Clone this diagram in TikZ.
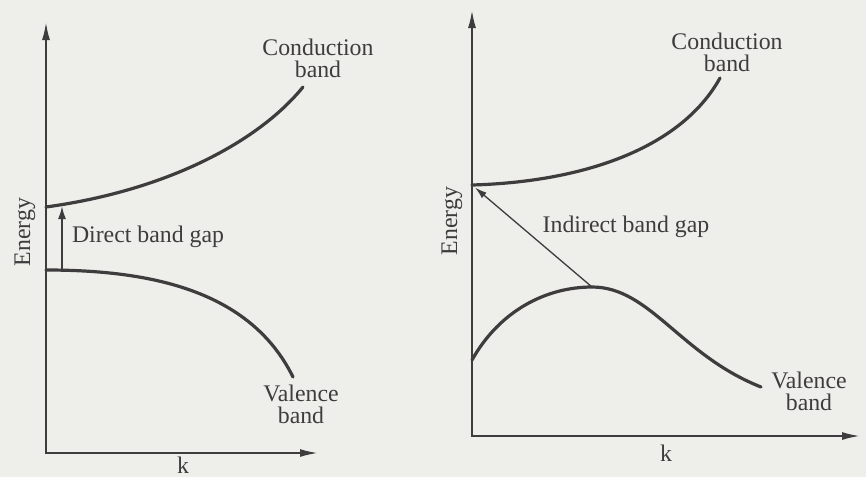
\documentclass[tikz,border=0pt]{standalone}
\usepackage{fontspec}
\setmainfont{Liberation Serif}
\usetikzlibrary{arrows.meta}

\begin{document}
\begin{tikzpicture}[x=0.5pt, y=-0.5pt, font=\fontsize{11.9}{11}\selectfont]

\definecolor{ink}{RGB}{62,60,60}
\definecolor{paper}{RGB}{238,238,235}

\tikzset{
  axis/.style={{Latex[length=9pt, width=4pt]}-{Latex[length=9pt, width=4pt]}, line width=1pt, draw=ink},
  band/.style={line width=1.6pt, draw=ink, line cap=round},
  gap/.style={-{Latex[length=6.5pt, width=4pt]}, line width=1pt, draw=ink},
  thingap/.style={-{Latex[length=6pt, width=3.6pt]}, line width=0.65pt, draw=ink},
  lab/.style={text=ink, align=center, inner sep=0pt},
}

\newcommand{\bandaxes}[5]{%
  \coordinate (#1-o) at (#2, #3);
  \coordinate (#1-x) at (#4, #3);
  \coordinate (#1-y) at (#2, #5);
  \draw[axis] (#1-y) -- (#1-o) -- (#1-x);
}

\fill[paper] (0, 0) rectangle (866, 477);
\useasboundingbox (0, 0) rectangle (866, 477);

% direct gap
\bandaxes{dir}{46}{453}{318}{22}
\node[lab] (dir-k) at (183, 465) {k};
\node[lab, rotate=90] (dir-e) at (25, 232) {Energy};

\coordinate (dir-cb0) at (46, 207);
\coordinate (dir-cb1) at (303, 87);
\coordinate (dir-vb0) at (46, 270);
\coordinate (dir-vb1) at (293, 377);
\draw[band] (dir-cb0) .. controls (170, 190) and (260, 140) .. (dir-cb1);
\draw[band] (dir-vb0) .. controls (150, 270) and (250, 290) .. (dir-vb1);

\coordinate (dir-from) at (62, 270);
\coordinate (dir-to) at (62, 206);
\draw[gap] (dir-from) -- (dir-to);

\node[lab] (dir-cl) at (318, 58) {Conduction\\band};
\node[lab] (dir-vl) at (301, 404) {Valence\\band};
\node[lab] (dir-gl) at (148, 237) {Direct band gap};

% indirect gap
\bandaxes{ind}{472}{436}{860}{10}
\node[lab] (ind-k) at (666, 453) {k};
\node[lab, rotate=90] (ind-e) at (452, 221) {Energy};

\coordinate (ind-cb0) at (472, 185);
\coordinate (ind-cb1) at (720, 78);
\coordinate (ind-vb0) at (472, 360);
\coordinate (ind-top) at (592, 287);
\coordinate (ind-vb1) at (761, 387);
\draw[band] (ind-cb0) .. controls (580, 182) and (680, 150) .. (ind-cb1);
\draw[band] (ind-vb0) .. controls (500, 310) and (547, 287) .. (ind-top)
  .. controls (650, 287) and (680, 355) .. (ind-vb1);

\draw[thingap, shorten >=2pt] (ind-top) -- (ind-cb0);

\node[lab] (ind-cl) at (727, 52) {Conduction\\band};
\node[lab] (ind-vl) at (809, 391) {Valence\\band};
\node[lab] (ind-gl) at (626, 227) {Indirect band gap};

\end{tikzpicture}
\end{document}
